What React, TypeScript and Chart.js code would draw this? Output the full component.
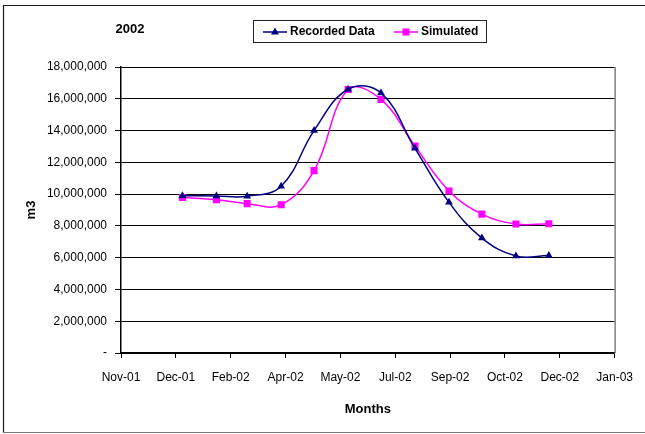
import React, { useEffect, useRef } from "react";
import { Chart, registerables } from "chart.js";

Chart.register(...registerables);

// month-end sample dates
const sampleDates = [
  "2001-12-31", "2002-01-31", "2002-02-28", "2002-03-31", "2002-04-30", "2002-05-31",
  "2002-06-30", "2002-07-31", "2002-08-31", "2002-09-30", "2002-10-31", "2002-11-30",
];

const recordedData = [
  9900000, 9880000, 9870000, 10500000, 14000000, 16600000,
  16370000, 12880000, 9480000, 7230000, 6110000, 6130000,
];

const simulatedData = [
  9790000, 9650000, 9400000, 9330000, 11480000, 16580000,
  15960000, 13020000, 10200000, 8740000, 8120000, 8130000,
];

// Excel date axis: starts 5 Nov 2001, a label every 50 days
const axisStart = "2001-11-05";
const axisStepDays = 50;
const xTickLabels = [
  "Nov-01", "Dec-01", "Feb-02", "Apr-02", "May-02",
  "Jul-02", "Sep-02", "Oct-02", "Dec-02", "Jan-03",
];

const seriesNames = ["Recorded Data", "Simulated"];
const seriesColors = ["#000080", "#FF00FF"];

const FONT = "'Liberation Sans', Arial, sans-serif";
const DAY = 86400000;

const toDays = (d: string) => (Date.parse(d) - Date.parse(axisStart)) / DAY;

const drawMarker = (ctx: CanvasRenderingContext2D, kind: string, x: number, y: number, color: string) => {
  ctx.fillStyle = color;
  ctx.beginPath();
  if (kind === "triangle") {
    ctx.moveTo(x, y - 4.5);
    ctx.lineTo(x + 4, y + 2.5);
    ctx.lineTo(x - 4, y + 2.5);
    ctx.closePath();
    ctx.fill();
  } else {
    ctx.fillRect(x - 3.5, y - 3.5, 7, 7);
  }
};

const decorPlugin = {
  id: "decor",
  afterDraw(chart: Chart) {
    const { ctx, chartArea } = chart;
    ctx.save();

    // right edge of plot area
    ctx.strokeStyle = "#808080";
    ctx.lineWidth = 1.5;
    ctx.beginPath();
    ctx.moveTo(chartArea.right + 0.5, chartArea.top);
    ctx.lineTo(chartArea.right + 0.5, chartArea.bottom);
    ctx.stroke();

    // outer frame
    ctx.strokeStyle = "#1a1a1a";
    ctx.lineWidth = 1.2;
    ctx.beginPath();
    ctx.moveTo(645, 5.5);
    ctx.lineTo(3.5, 5.5);
    ctx.lineTo(3.5, 432.5);
    ctx.stroke();
    ctx.strokeStyle = "#777777";
    ctx.beginPath();
    ctx.moveTo(3.5, 432.5);
    ctx.lineTo(645, 432.5);
    ctx.stroke();

    // title
    ctx.fillStyle = "#000";
    ctx.font = `bold 13px ${FONT}`;
    ctx.textAlign = "center";
    ctx.textBaseline = "middle";
    ctx.fillText("2002", 130, 29);

    // legend box
    ctx.strokeStyle = "#222";
    ctx.lineWidth = 1;
    ctx.strokeRect(253.5, 20.5, 233, 22);
    const items = [
      { x: 263, marker: "triangle" },
      { x: 394, marker: "rect" },
    ];
    ctx.font = `bold 12px ${FONT}`;
    ctx.textAlign = "left";
    items.forEach((it, i) => {
      ctx.strokeStyle = seriesColors[i];
      ctx.lineWidth = 1.5;
      ctx.beginPath();
      ctx.moveTo(it.x, 32);
      ctx.lineTo(it.x + 24, 32);
      ctx.stroke();
      drawMarker(ctx, it.marker, it.x + 12, 32, seriesColors[i]);
      ctx.fillStyle = "#000";
      ctx.fillText(seriesNames[i], it.x + 27, 32);
    });

    ctx.restore();
  },
};

const App: React.FC = () => {
  const chartRef = useRef<HTMLCanvasElement>(null);
  const chartInstance = useRef<Chart | null>(null);

  useEffect(() => {
    document.body.style.margin = "0";
    if (!chartRef.current) return;
    if (chartInstance.current) chartInstance.current.destroy();
    const ctx = chartRef.current.getContext("2d");
    if (!ctx) return;

    const xs = sampleDates.map(toDays);

    chartInstance.current = new Chart(ctx, {
      type: "line",
      data: {
        datasets: [
          {
            label: seriesNames[0],
            data: recordedData.map((v, i) => ({ x: xs[i], y: v })),
            borderColor: seriesColors[0],
            backgroundColor: seriesColors[0],
            borderWidth: 1.5,
            pointStyle: "triangle",
            pointRadius: 4.5,
            pointBorderWidth: 0,
            tension: 0.4,
          },
          {
            label: seriesNames[1],
            data: simulatedData.map((v, i) => ({ x: xs[i], y: v })),
            borderColor: seriesColors[1],
            backgroundColor: seriesColors[1],
            borderWidth: 1.5,
            pointStyle: "rect",
            pointRadius: 5,
            pointBorderWidth: 0,
            tension: 0.4,
          },
        ],
      },
      options: {
        responsive: false,
        animation: false,
        layout: { padding: { top: 67, left: 20, right: 30, bottom: 0 } },
        plugins: {
          legend: { display: false },
          title: { display: false },
          tooltip: { enabled: false },
        },
        scales: {
          x: {
            type: "linear",
            min: 0,
            max: axisStepDays * (xTickLabels.length - 1),
            afterFit: (scale: any) => {
              scale.height = 81;
            },
            afterBuildTicks: (scale: any) => {
              scale.ticks = xTickLabels.map((_, i) => ({ value: i * axisStepDays }));
            },
            ticks: {
              autoSkip: false,
              maxRotation: 0,
              padding: 12,
              color: "#000",
              font: { family: FONT, size: 12 },
              callback: (v: any) => xTickLabels[Math.round(Number(v) / axisStepDays)],
            },
            grid: {
              drawOnChartArea: false,
              drawTicks: true,
              tickLength: 5,
              color: "#000",
            },
            border: { display: true, color: "#000", width: 1.5 },
            title: {
              display: true,
              text: "Months",
              color: "#000",
              font: { family: FONT, size: 13, weight: "bold" },
              padding: { top: 0, bottom: 17 },
            },
          },
          y: {
            min: 0,
            max: 18000000,
            afterFit: (scale: any) => {
              scale.width = 101;
            },
            ticks: {
              stepSize: 2000000,
              padding: 8,
              color: "#000",
              font: { family: FONT, size: 12 },
              callback: (v: any) => (Number(v) === 0 ? "-" : Number(v).toLocaleString("en-US")),
            },
            grid: {
              color: "#000",
              lineWidth: 1,
              tickLength: 6,
            },
            border: { display: true, color: "#000", width: 1.5 },
            title: {
              display: true,
              text: "m3",
              color: "#000",
              font: { family: FONT, size: 13, weight: "bold" },
              padding: { top: 4, bottom: 0 },
            },
          },
        },
      },
      plugins: [decorPlugin],
    });

    return () => {
      if (chartInstance.current) {
        chartInstance.current.destroy();
        chartInstance.current = null;
      }
    };
  }, []);

  return (
    <div style={{ position: "absolute", left: 0, top: 0, width: 645, height: 434, background: "#fff" }}>
      <canvas ref={chartRef} width={645} height={434}></canvas>
    </div>
  );
};

export default App;
